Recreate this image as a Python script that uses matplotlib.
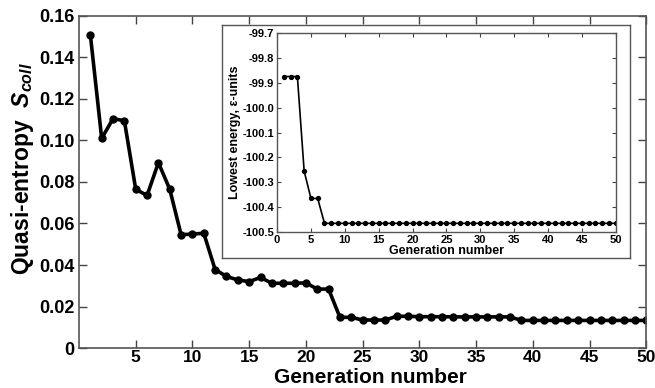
import numpy as np
import matplotlib
matplotlib.use('Agg')
import matplotlib.pyplot as plt

plt.rcParams['font.family'] = ['Liberation Sans', 'DejaVu Sans']
plt.rcParams['font.weight'] = 'bold'
plt.rcParams['mathtext.fontset'] = 'custom'
plt.rcParams['mathtext.it'] = 'Liberation Sans:italic:bold'
plt.rcParams['mathtext.rm'] = 'Liberation Sans:bold'

# main curve: quasi-entropy per generation
generation = np.arange(1, 51)
entropy = [0.151, 0.101, 0.1105, 0.1095, 0.0765, 0.0735, 0.0893, 0.0765, 0.0546, 0.0549,
           0.0553, 0.0378, 0.0345, 0.0328, 0.0320, 0.0340, 0.0312, 0.0312, 0.0312, 0.0314,
           0.0284, 0.0284, 0.0148, 0.0148, 0.0135, 0.0135, 0.0135, 0.0153, 0.0153, 0.0151,
           0.0151, 0.0151, 0.0150, 0.0150, 0.0150, 0.0150, 0.0150, 0.0150, 0.0133, 0.0133,
           0.0133, 0.0133, 0.0133, 0.0133, 0.0133, 0.0133, 0.0133, 0.0133, 0.0133, 0.0133]

# inset: lowest energy per generation
energy = [-99.875, -99.875, -99.875, -100.255, -100.365, -100.365] + [-100.465] * 44

fig = plt.figure(figsize=(6.55, 3.88), dpi=100)
ax = fig.add_axes([0.1206, 0.103, 0.866, 0.856])
ax.plot(generation, entropy, color='black', lw=2.6, marker='o', ms=5)
ax.set_xlim(0, 50)
ax.set_ylim(0, 0.16)
ax.set_xticks(np.arange(5, 51, 5))
ax.set_yticks(np.arange(0, 0.161, 0.02))
ax.set_yticklabels(['0'] + ['%.2f' % v for v in np.arange(0.02, 0.161, 0.02)])
ax.tick_params(direction='in', length=6, width=1, top=True, right=True,
               labelsize=13, color='#444444')
ax.tick_params(axis='x', pad=1.5, labelsize=12.5)
ax.tick_params(axis='y', pad=3)
for s in ax.spines.values():
    s.set_color('#555555')
    s.set_linewidth(1.2)
ax.set_xlabel('Generation number', fontsize=15, fontweight='bold')
ax.xaxis.set_label_coords(0.514, -0.06)
ax.set_ylabel(r'Quasi-entropy  $S_{coll}$', fontsize=16.5, fontweight='bold')
ax.yaxis.set_label_coords(-0.076, 0.54)

# white frame around the inset
frame = fig.add_axes([0.339, 0.335, 0.623, 0.601])
frame.set_xticks([])
frame.set_yticks([])
frame.set_facecolor('white')
for s in frame.spines.values():
    s.set_color('#555555')
    s.set_linewidth(1.0)

ins = fig.add_axes([0.423, 0.402, 0.517, 0.513])
ins.plot(generation, energy, color='black', lw=1.2, marker='o', ms=2.8)
ins.set_xlim(0, 50)
ins.set_ylim(-100.5, -99.7)
ins.set_xticks(np.arange(0, 51, 5))
ins.set_yticks(np.arange(-100.5, -99.69, 0.1))
ins.set_yticklabels(['%.1f' % v for v in np.arange(-100.5, -99.69, 0.1)])
ins.tick_params(direction='in', length=3, width=0.8, top=True, right=True,
                labelsize=8, color='#444444')
ins.tick_params(axis='x', pad=2.5)
ins.tick_params(axis='y', pad=2)
for s in ins.spines.values():
    s.set_color('#555555')
    s.set_linewidth(1.0)
ins.set_xlabel('Generation number', fontsize=9, fontweight='bold', labelpad=0)
ins.set_ylabel('Lowest energy, ε-units', fontsize=9, fontweight='bold', labelpad=1)

fig.savefig('out.png', dpi=100)
